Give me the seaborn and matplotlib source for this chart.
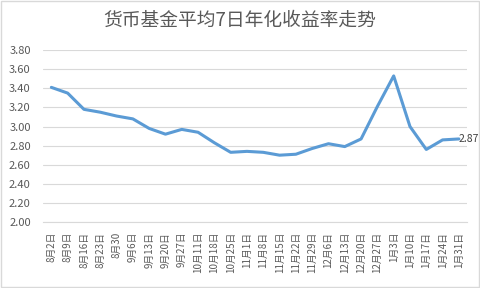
import matplotlib
matplotlib.use("Agg")
import matplotlib.pyplot as plt
import seaborn as sns
import pandas as pd

dates = ["8月2日", "8月9日", "8月16日", "8月23日", "8月30", "9月6日", "9月13日",
         "9月20日", "9月27日", "10月11日", "10月18日", "10月25日", "11月1日",
         "11月8日", "11月15日", "11月22日", "11月29日", "12月6日", "12月13日",
         "12月20日", "12月27日", "1月3日", "1月10日", "1月17日", "1月24日", "1月31日"]
yields = [3.41, 3.35, 3.18, 3.15, 3.11, 3.08, 2.98, 2.92, 2.97, 2.94, 2.83, 2.73,
          2.74, 2.73, 2.70, 2.71, 2.77, 2.82, 2.79, 2.87, 3.21, 3.53, 3.00, 2.76,
          2.86, 2.87]
yticks = [2.00, 2.20, 2.40, 2.60, 2.80, 3.00, 3.20, 3.40, 3.60, 3.80]
title = "货币基金平均7日年化收益率走势"

sns.set_theme(style="white")
plt.rcParams["font.family"] = ["Noto Sans CJK SC", "DejaVu Sans"]

df = pd.DataFrame({"idx": range(len(dates)), "val": yields})

fig = plt.figure(figsize=(4.8, 2.88), dpi=100)
ax = fig.add_axes([0.09, 0.229, 0.883, 0.597])
sns.lineplot(data=df, x="idx", y="val", ax=ax, color="#5B9BD5", linewidth=2.2)

ax.set_xlim(-0.5, len(dates) - 0.5)
ax.set_ylim(2.0, 3.8)
ax.set_yticks(yticks)
ax.set_yticklabels([f"{v:.2f}" for v in yticks], fontsize=8, color="#595959")
ax.set_xticks(range(len(dates)))
ax.set_xticklabels(dates, rotation=90, fontsize=7, color="#595959")
ax.tick_params(axis="y", length=0, pad=9)
ax.tick_params(axis="x", length=0, pad=7)
ax.grid(axis="y", color="#D9D9D9", linewidth=0.8)
ax.set_axisbelow(True)
for s in ["top", "right", "left"]:
    ax.spines[s].set_visible(False)
ax.spines["bottom"].set_color("#D9D9D9")
ax.spines["bottom"].set_linewidth(0.8)
ax.set_xlabel("")
ax.set_ylabel("")

ax.annotate(f"{yields[-1]:.2f}", (len(dates) - 1, yields[-1]), xytext=(0, 0),
            textcoords="offset points", ha="left", va="center",
            fontsize=7.5, color="#404040")

fig.text(0.5, 0.93, title, ha="center", va="center", fontsize=13.5, color="#595959")

border = plt.Rectangle((0.002, 0.002), 0.996, 0.996, transform=fig.transFigure,
                       fill=False, edgecolor="#D9D9D9", linewidth=1)
fig.patches.append(border)

fig.savefig("out.png", dpi=100)
